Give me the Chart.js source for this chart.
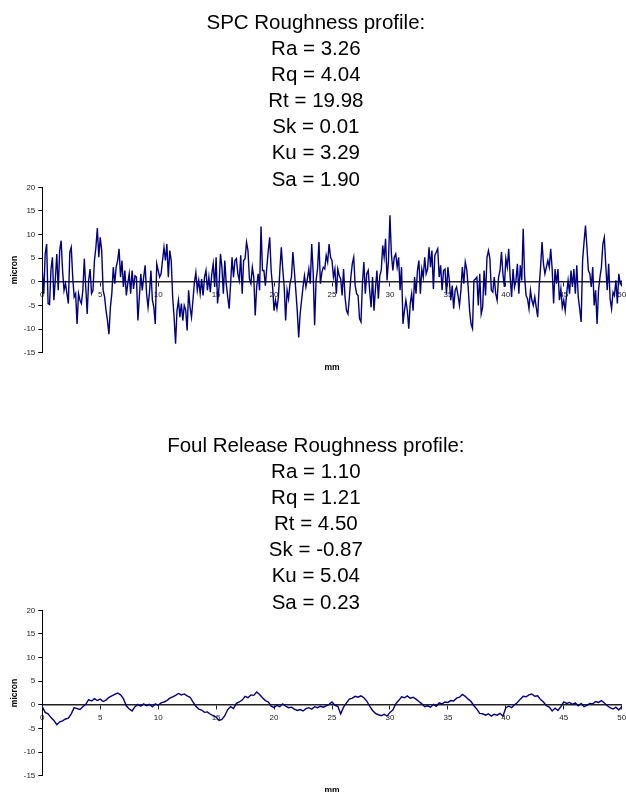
<!DOCTYPE html>
<html>
<head>
<meta charset="utf-8">
<script src="https://cdn.jsdelivr.net/npm/chart.js@4.4.0/dist/chart.umd.min.js"></script>
<style>
  html, body { margin: 0; padding: 0; background: #fff; overflow: hidden; }
  canvas { position: absolute; left: 0; }
  #spc { top: 0; }
  #foul { top: 423px; }
</style>
</head>
<body>
<canvas id="spc" width="626" height="423"></canvas>
<canvas id="foul" width="626" height="423"></canvas>
<script>
const FONT = '"Liberation Sans", Arial, sans-serif';

const spcTitle = ['SPC Roughness profile:', 'Ra = 3.26', 'Rq = 4.04', 'Rt = 19.98', 'Sk = 0.01', 'Ku = 3.29', 'Sa = 1.90'];
const foulTitle = ['Foul Release Roughness profile:', 'Ra = 1.10', 'Rq = 1.21', 'Rt = 4.50', 'Sk = -0.87', 'Ku = 5.04', 'Sa = 0.23'];

// sample spacing along the profile, mm
const spcStep = 0.125;
const foulStep = 0.25;

// SPC profile height, micron (0 .. 50 mm)
const spcMicron = [
  // 0 - 12.5 mm
  2.4,-2.5,5.9,8.0,-4.6,-4.8,2.7,5.2,-3.9,0.6,
  5.9,-1.8,6.6,8.7,2.4,-1.8,-0.4,-2.5,-4.6,6.3,
  7.3,1.0,-3.2,-2.5,-8.9,-2.5,-3.9,-4.6,-1.8,4.9,
  -1.1,-6.8,0.3,2.7,-2.5,-1.8,4.5,7.3,11.4,5.2,
  9.4,6.6,-1.8,-3.2,-6.1,-8.2,-11.1,-5.4,-2.5,3.1,
  -0.4,3.1,4.5,7.0,1.0,4.5,-1.1,2.4,-2.9,-0.4,
  1.7,-2.5,2.4,-1.5,1.3,1.0,-8.2,-3.2,1.7,-1.8,
  1.0,3.5,-2.5,-5.4,-2.2,2.4,-3.9,-5.4,-8.9,3.8,
  2.4,1.0,1.7,4.5,7.3,4.5,8.0,1.0,6.6,4.5,
  -3.2,-7.5,-13.1,-6.1,-3.9,-7.5,-4.6,-8.2,-5.0,-6.0,
  // 12.5 - 25 mm
  -10.3,-1.8,-5.4,-7.5,-3.9,-0.1,2.0,-1.8,0.3,-2.5,
  0.6,-2.9,1.0,2.4,-1.8,1.0,-2.2,1.7,3.8,-1.1,
  5.2,-4.6,-1.1,5.9,3.1,-2.5,4.5,-0.4,-3.2,-5.7,
  -0.4,5.2,1.0,4.5,4.9,1.7,0.3,5.6,-2.5,4.5,
  4.9,8.4,6.6,0.6,-0.4,3.1,1.0,-7.1,-1.1,1.7,
  -1.8,11.7,2.4,2.4,-0.8,3.1,6.6,9.4,2.4,-1.1,
  -6.1,-3.9,-5.7,-3.2,2.4,7.3,2.7,-1.1,-8.2,-1.8,
  -3.6,-0.4,1.0,6.3,2.4,-1.8,-6.1,-11.8,-6.8,-3.9,
  -1.1,1.3,-1.1,0.6,2.7,-0.4,8.0,2.0,-9.2,0.3,
  2.7,8.4,-0.4,2.0,3.1,2.7,5.6,4.2,8.0,5.2,
  // 25 - 37.5 mm
  4.5,1.0,2.7,-2.5,2.7,1.3,0.6,-2.9,2.7,-3.2,
  -6.1,-6.8,-3.2,1.0,3.8,5.2,-0.8,-2.5,-2.9,-7.8,
  -8.5,-0.4,4.2,-2.5,1.7,2.4,-1.8,-5.4,1.0,-6.1,
  -1.5,2.4,-3.6,1.3,2.4,7.7,5.2,9.1,0.3,4.5,
  14.1,5.9,2.4,5.2,5.9,3.1,5.2,-1.8,3.1,-8.9,
  -6.1,-3.9,-6.1,-9.9,-4.6,-2.5,-6.1,1.0,-2.5,2.4,
  4.5,-2.5,2.7,1.0,5.2,1.7,2.7,7.3,3.1,6.6,
  -1.5,5.6,6.3,7.0,1.0,3.5,-1.8,2.4,2.7,-2.5,
  3.1,0.3,-3.9,-0.8,-5.7,-1.8,-1.1,-2.9,-5.0,-1.8,
  3.1,-0.4,4.2,2.7,-1.1,-6.1,-8.9,-9.9,0.3,0.6,
  // 37.5 - 50 mm
  1.0,-5.0,1.7,-6.8,-5.4,2.4,-2.9,5.2,6.6,4.9,
  -1.8,-2.2,1.0,-2.5,-3.9,1.0,2.4,6.3,1.7,-1.1,
  4.9,3.1,7.0,1.0,-3.2,2.7,-1.1,0.3,3.8,-2.5,
  3.5,0.3,11.2,1.0,-2.9,-3.6,-5.7,-1.8,-3.9,-5.0,
  -3.2,-5.4,-7.5,-1.1,3.1,8.4,3.8,1.7,3.1,4.5,
  3.1,7.0,2.7,-4.6,2.7,-0.4,2.7,-3.9,-1.5,-5.4,
  -3.9,-6.1,-2.5,0.3,-2.5,2.4,-1.1,2.7,-2.5,3.5,
  -3.2,-5.7,-8.5,4.5,8.4,11.9,7.3,2.4,1.7,-1.1,
  3.1,-5.0,-1.8,-8.9,-1.8,1.0,3.1,8.0,9.4,3.5,
  -1.8,3.8,-3.6,-5.7,-2.2,-2.9,0.3,-4.6,1.7,-0.4,
  0.3
];

// Foul Release profile height, micron (0 .. 50 mm, 8 samples per 2 mm)
const foulMicron = [
  -0.4,-1.6,-1.9,-2.7,-3.3,-4.2,-3.6,-3.4,
  -3.0,-2.8,-1.9,-0.6,-0.8,-1.0,-0.4,0.1,
  1.1,0.8,1.3,0.9,1.2,0.7,1.0,1.6,
  1.9,2.2,2.5,2.1,1.3,-0.2,-0.9,-1.3,
  -0.4,0.1,-0.3,0.2,-0.2,0.1,-0.4,0.2,
  -0.1,0.4,0.6,0.9,1.4,1.7,2.0,2.4,
  2.1,2.3,1.9,1.6,0.6,-0.3,-0.9,-1.1,
  -1.6,-1.5,-2.0,-2.3,-2.6,-3.3,-3.1,-2.3,
  -1.0,-0.4,-0.8,0.3,0.6,1.0,1.8,1.5,
  2.1,2.0,2.7,2.2,1.5,0.9,0.6,-0.3,
  -0.6,-0.1,-0.4,0.2,-0.3,-0.6,-0.5,-0.9,
  -1.2,-1.0,-1.3,-0.8,-0.6,-0.9,-0.4,-0.6,
  -0.3,-0.5,-0.2,0.1,0.6,-0.1,-0.3,-1.9,
  -0.5,0.4,1.2,1.4,1.8,1.6,1.9,1.5,
  0.8,-0.3,-1.2,-1.8,-2.1,-2.3,-2.0,-2.4,
  -1.6,-1.1,0.2,0.9,1.7,1.5,1.9,1.4,
  1.6,1.2,0.7,0.2,-0.4,-0.2,-0.5,0.1,
  -0.3,0.4,0.2,0.6,0.5,0.9,0.8,1.4,
  1.6,2.2,1.8,1.2,0.7,-0.2,-0.9,-1.8,
  -1.9,-2.2,-1.9,-2.4,-2.0,-2.2,-1.8,-2.4,
  -0.6,-0.3,-0.6,0.0,0.5,1.2,1.8,1.7,
  2.1,2.3,1.8,1.9,1.1,0.6,-0.2,-0.5,
  -1.3,-0.7,-1.2,-0.4,0.6,0.3,0.5,0.1,
  0.4,-0.2,0.3,-0.4,-0.1,0.3,0.2,0.7,
  0.5,0.9,0.4,-0.2,-0.6,-0.9,-0.5,-1.1,
  -0.4
];

function profileChart(id, title, values, step) {
  const tickFont = { family: FONT, size: 8 };
  const axisTitleFont = { family: FONT, size: 8.5, weight: 'bold', lineHeight: 1.2 };
  return new Chart(document.getElementById(id), {
    type: 'line',
    data: {
      datasets: [{
        data: values.map((v, i) => ({ x: i * step, y: v })),
        borderColor: '#000080',
        borderWidth: 1.4,
        pointRadius: 0,
        tension: 0,
        fill: false
      }]
    },
    options: {
      responsive: false,
      animation: false,
      events: [],
      layout: { padding: { left: 10, right: 4.3, top: 0, bottom: 50.6 } },
      plugins: {
        legend: { display: false },
        tooltip: { enabled: false },
        title: {
          display: true,
          text: title,
          color: '#000',
          font: { family: FONT, size: 20.5, weight: 'normal', lineHeight: '26.1px' },
          padding: { top: 10.25, bottom: -5.65 }
        }
      },
      scales: {
        x: {
          type: 'linear',
          min: 0,
          max: 50,
          position: { y: 0 },
          ticks: { stepSize: 5, font: tickFont, color: '#222', padding: 4.5, maxRotation: 0, autoSkip: false },
          grid: { drawOnChartArea: false, drawTicks: true, tickLength: 4, color: '#222' },
          border: { color: '#222', width: 1.5 },
          afterFit: s => { s.paddingLeft = 0; s.paddingRight = 0; }
        },
        xt: {
          type: 'linear',
          axis: 'x',
          position: 'bottom',
          min: 0,
          max: 50,
          ticks: { display: false },
          grid: { display: false, drawTicks: false },
          border: { display: false },
          title: { display: true, text: 'mm', color: '#000', font: axisTitleFont, padding: { top: 9.5, bottom: 0 } }
        },
        y: {
          min: -15,
          max: 20,
          ticks: { stepSize: 5, font: tickFont, color: '#222', padding: 3 },
          grid: { drawOnChartArea: false, drawTicks: true, tickLength: 4, color: '#000' },
          border: { color: '#000', width: 1 },
          title: { display: true, text: 'micron', color: '#000', font: axisTitleFont, padding: { top: 0, bottom: 0 } },
          afterFit: s => { s.width = 32.3; }
        }
      }
    }
  });
}

profileChart('spc', spcTitle, spcMicron, spcStep);
profileChart('foul', foulTitle, foulMicron, foulStep);
</script>
</body>
</html>
